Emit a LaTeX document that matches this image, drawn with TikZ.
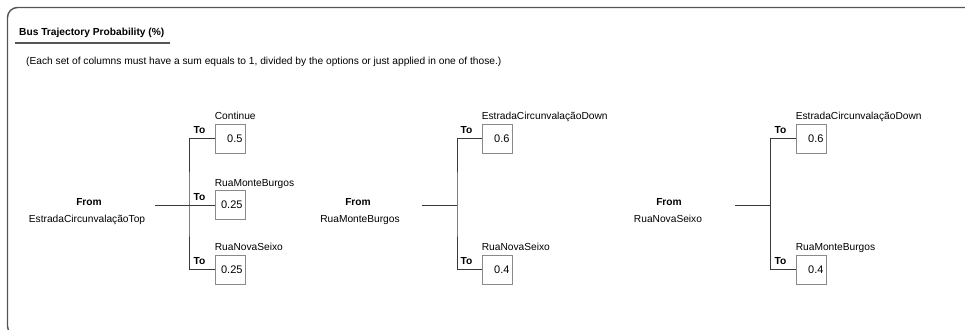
\documentclass[tikz,border=0pt]{standalone}
\usepackage{fontspec}
\setmainfont{Liberation Sans}
\usetikzlibrary{positioning}

\definecolor{framegrey}{HTML}{555555}
\definecolor{boxgrey}{HTML}{8A8A8A}
\definecolor{linegrey}{HTML}{3A3A3A}

\tikzset{
  txt/.style={inner sep=0pt, font=\fontsize{10.2}{12}\selectfont},
  boldtxt/.style={txt, font=\fontsize{10.2}{12}\selectfont\bfseries},
  tolbl/.style={boldtxt, anchor=base east, xshift=-9pt, yshift=5pt},
  destlbl/.style={txt, anchor=base west, yshift=4pt},
  valbox/.style={draw=boxgrey, line width=0.8pt, minimum width=30pt, minimum height=29pt,
    inner xsep=2.5pt, text width=25pt, align=right, font=\fontsize{11}{12}\selectfont},
  branch/.style={draw=linegrey, line width=1pt}
}

\begin{document}
\begin{tikzpicture}[x=1pt,y=-1pt]
    \useasboundingbox (0,0) rectangle (965,329);
    \clip (0,0) rectangle (965,329);
    % --- frame and heading
    \draw[framegrey, line width=1.4pt, rounded corners=10pt] (7.5,7.5) rectangle (990,336);
    \node[boldtxt, anchor=base west] (title) at (19,36) {Bus Trajectory Probability (\%)};
    \draw[framegrey, line width=1.8pt] (15,43) -- (170,43);
    \node[txt, anchor=base west] (note) at (26,64) {(Each set of columns must have a sum equals to 1, divided by the options or just applied in one of those.)};
    % --- from EstradaCircunvalacaoTop
    \node[boldtxt, anchor=base] (from1) at (89,205) {From};
    \node[txt, anchor=base] (orig1) at (87,222) {EstradaCircunvalaçãoTop};
    \node[valbox] (b11) at (230,138.5) {0.5};
    \node[valbox] (b12) at (230,205) {0.25};
    \node[valbox] (b13) at (230,269.5) {0.25};
    \node[destlbl] at (b11.north west) {Continue};
    \node[destlbl] at (b12.north west) {RuaMonteBurgos};
    \node[destlbl] at (b13.north west) {RuaNovaSeixo};
    \foreach \b in {b11,b12,b13}{\node[tolbl] at (\b.west) {To};}
    \coordinate (s1) at (155,205);
    \coordinate (j1) at (189,205);
    \draw[branch] (s1) -- (b12.west);
    \draw[branch] (b11.west) -| (j1) |- (b13.west);
    % --- from RuaMonteBurgos
    \node[boldtxt, anchor=base] (from2) at (358,205) {From};
    \node[txt, anchor=base] (orig2) at (360,222) {RuaMonteBurgos};
    \node[valbox] (b21) at (497,138.5) {0.6};
    \node[valbox] (b22) at (497,269.5) {0.4};
    \node[destlbl] at (b21.north west) {EstradaCircunvalaçãoDown};
    \node[destlbl] at (b22.north west) {RuaNovaSeixo};
    \foreach \b in {b21,b22}{\node[tolbl] at (\b.west) {To};}
    \coordinate (s2) at (422,205);
    \coordinate (j2) at (457,205);
    \draw[branch] (s2) -- (j2);
    \draw[branch] (b21.west) -| (j2) |- (b22.west);
    % --- from RuaNovaSeixo
    \node[boldtxt, anchor=base] (from3) at (669,205) {From};
    \node[txt, anchor=base] (orig3) at (668,222) {RuaNovaSeixo};
    \node[valbox] (b31) at (811,138.5) {0.6};
    \node[valbox] (b32) at (811,269.5) {0.4};
    \node[destlbl] at (b31.north west) {EstradaCircunvalaçãoDown};
    \node[destlbl] at (b32.north west) {RuaMonteBurgos};
    \foreach \b in {b31,b32}{\node[tolbl] at (\b.west) {To};}
    \coordinate (s3) at (735,205);
    \coordinate (j3) at (770,205);
    \draw[branch] (s3) -- (j3);
    \draw[branch] (b31.west) -| (j3) |- (b32.west);
\end{tikzpicture}
\end{document}
